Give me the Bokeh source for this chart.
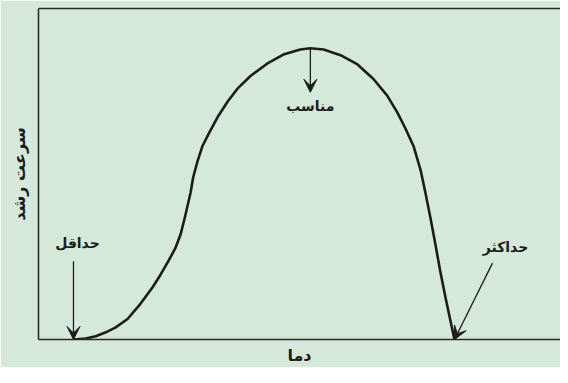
from bokeh.plotting import figure
from bokeh.models import Range1d, LinearAxis, FixedTicker, Arrow, VeeHead, ColumnDataSource
from bokeh.core.properties import value
from bokeh.embed import file_html
from bokeh.resources import INLINE

# Temperature (relative units) and growth rate (relative units)
temperature = [6.6, 8.9, 10.8, 12.6, 14.5, 16.8, 19.2, 21.5, 23.0, 24.5, 25.8, 26.8, 27.5,
               28.1, 28.7, 29.2, 30.0, 30.9, 32.1, 33.8, 35.7, 37.5, 40.0, 43.2, 46.2,
               49.4, 51.3, 53.8, 57.0, 60.2, 63.2, 65.8, 67.7, 69.2, 70.8, 72.1, 73.0,
               74.0, 74.9, 75.8, 76.8, 77.7, 78.5]
growth_rate = [0.0, 0.3, 1.0, 2.1, 3.6, 6.2, 10.7, 15.7, 19.5, 23.7, 27.5, 31.7, 36.1,
               40.2, 44.4, 49.1, 53.8, 58.3, 62.1, 67.2, 71.9, 75.7, 79.6, 83.4, 86.1,
               87.6, 88.0, 87.6, 85.9, 83.1, 78.7, 73.7, 68.6, 63.9, 58.3, 51.2, 44.4,
               36.4, 28.7, 20.7, 12.7, 5.9, 0.0]

x_title = "دما"
y_title = "سرعت رشد"
label_min = "حداقل"
label_opt = "مناسب"
label_max = "حداکثر"

BG = "#d4e9d9"
INK = "#1c1c1c"
FONT = "DejaVu Sans"

p = figure(width=560, height=367, output_backend="svg", toolbar_location=None,
           x_range=Range1d(0, 98.5), y_range=Range1d(0, 100),
           x_axis_location=None, y_axis_location=None)
p.min_border_left = 38
p.min_border_right = 0
p.min_border_top = 8
p.min_border_bottom = 25
p.background_fill_color = BG
p.border_fill_color = BG
p.outline_line_color = None
p.grid.visible = False

def make_axis(label=None, standoff=8):
    ax = LinearAxis(ticker=FixedTicker(ticks=[]))
    ax.axis_line_color = "#2a2a2a"
    ax.axis_line_width = 1.6
    ax.major_tick_line_color = None
    ax.minor_tick_line_color = None
    ax.major_tick_out = 0
    ax.major_tick_in = 0
    ax.minor_tick_out = 0
    ax.minor_tick_in = 0
    if label:
        ax.axis_label = label
        ax.axis_label_text_font = FONT
        ax.axis_label_text_font_style = "bold"
        ax.axis_label_text_font_size = "16px"
        ax.axis_label_text_color = INK
        ax.axis_label_standoff = standoff
    return ax

p.add_layout(make_axis(y_title, 10), "left")
p.add_layout(make_axis(x_title, 6), "below")
p.add_layout(make_axis(), "above")

# growth curve
p.line(temperature, growth_rate, line_color=INK, line_width=2.6, line_join="round")

# key points
i_opt = growth_rate.index(max(growth_rate))
t_min, r_min = temperature[0], growth_rate[0]
t_opt, r_opt = temperature[i_opt], growth_rate[i_opt]
t_max, r_max = temperature[-1], growth_rate[-1]

px_x = 100 / 530.0
px_y = 100 / 338.0

def arrow(x0, y0, x1, y1):
    p.add_layout(Arrow(end=VeeHead(size=13, fill_color=INK, line_color=INK, line_width=1),
                       x_start=x0, y_start=y0, x_end=x1, y_end=y1,
                       line_color=INK, line_width=1.3))

arrow(t_min, r_min + 80 * px_y, t_min, r_min)
arrow(t_opt, r_opt, t_opt, r_opt - 45 * px_y)
arrow(t_max + 38 * px_x, r_max + 78 * px_y, t_max, r_max)

lab = ColumnDataSource(dict(
    x=[t_min + 4 * px_x, t_opt, t_max + 51 * px_x],
    y=[r_min + 99 * px_y, r_opt - 59 * px_y, r_max + 94 * px_y],
    t=[label_min, label_opt, label_max],
))
p.text(x="x", y="y", text="t", source=lab, text_font=value(FONT), text_font_style="bold",
       text_font_size="14px", text_color=INK, text_align="center", text_baseline="middle")

open("out.html", "w").write(file_html(p, INLINE))
